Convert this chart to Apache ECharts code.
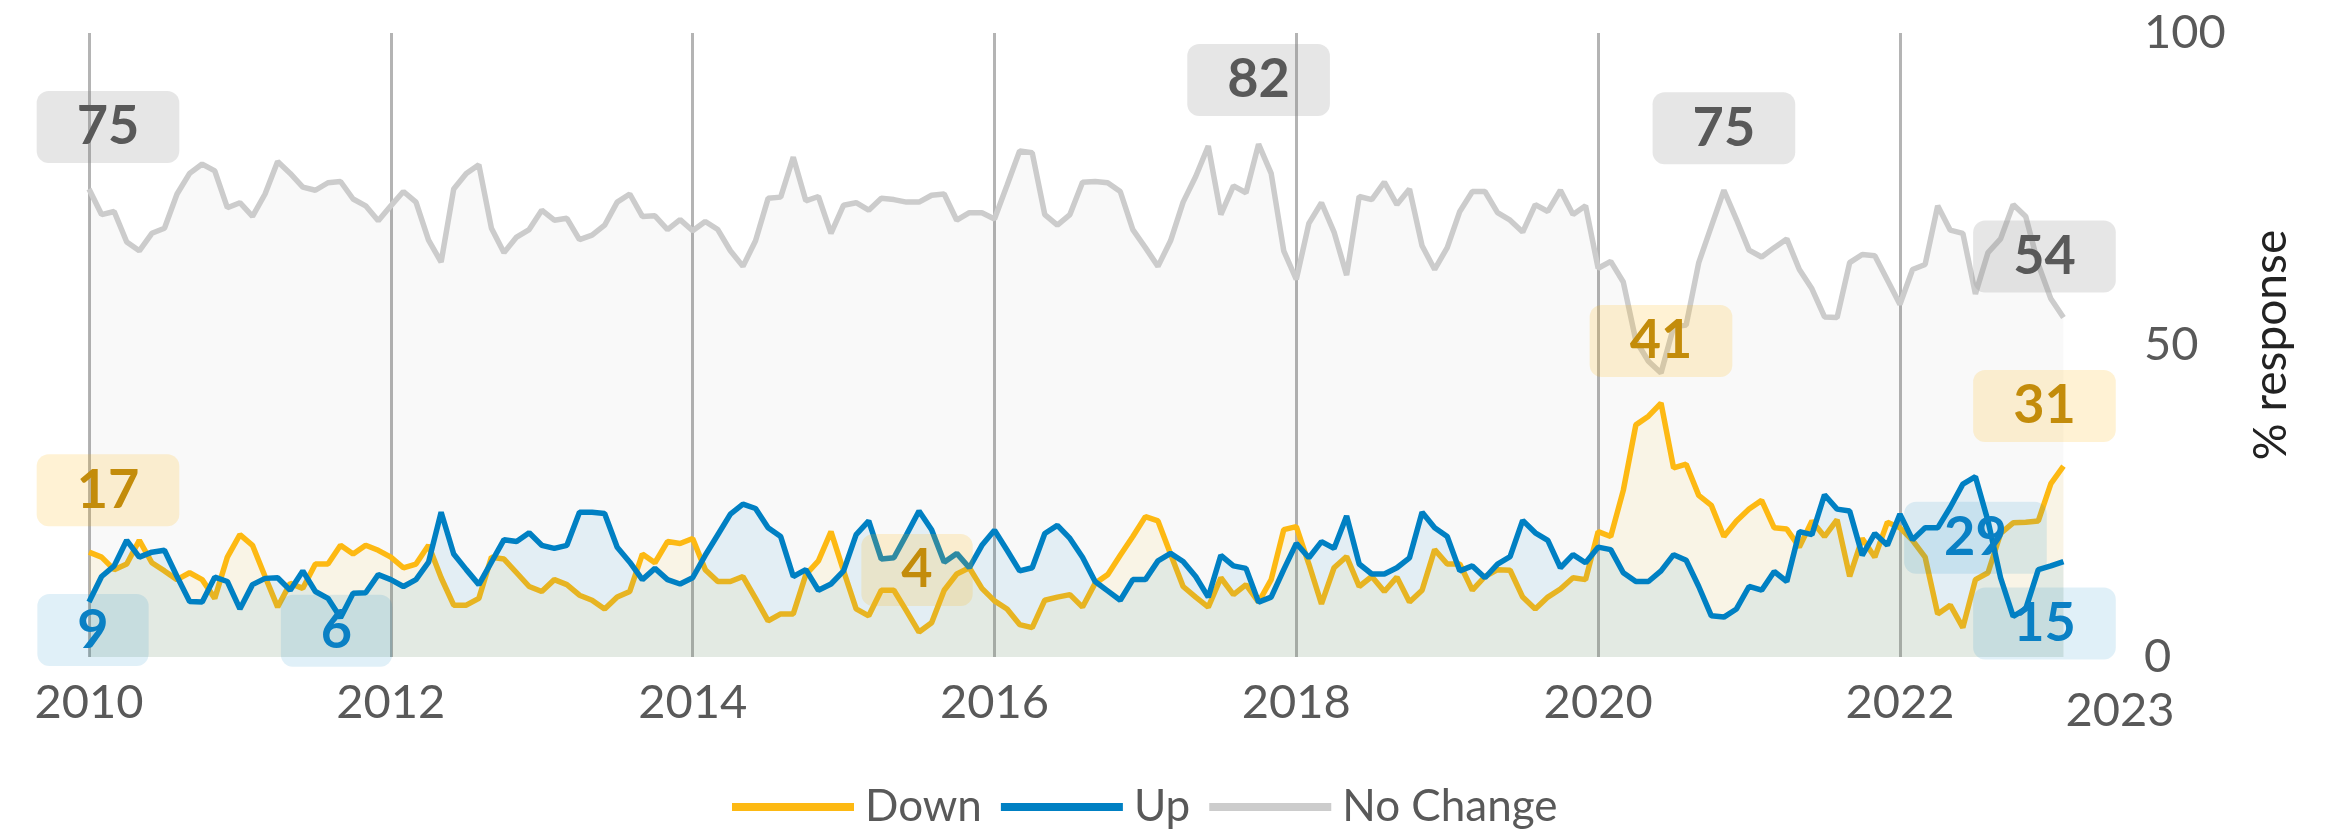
<!DOCTYPE html>
<html><head><meta charset="utf-8">
<script src="https://cdn.jsdelivr.net/npm/echarts@6/dist/echarts.min.js"></script>
<style>html,body{margin:0;padding:0;background:#fff}#c{width:2335px;height:836px}</style>
</head><body><div id="c"></div>
<script>
// ---- data (monthly, Jan 2010 .. Feb 2023) ----
const startYear = 2010;
const endLabel = '2023';
const seriesNames = ['Down', 'Up', 'No Change'];

const down = [
  16.8,16.0,14.0,14.9,18.7,15.1,13.8,12.4,13.5,12.4,9.4,16.0,19.6,17.9,12.9,8.0,11.8,11.0,14.9,14.9,17.9,16.5,17.9,17.1,
  16.0,14.3,14.9,17.9,12.7,8.3,8.3,9.4,16.0,15.7,13.5,11.3,10.5,12.4,11.6,9.9,9.1,7.7,9.6,10.5,16.5,15.1,18.5,18.2,
  19.0,14.0,12.1,12.1,12.9,9.4,5.8,6.9,6.9,13.2,15.4,20.1,13.8,7.7,6.6,10.7,10.7,7.4,4.0,5.5,10.7,13.3,14.3,11.0,
  9.0,7.7,5.2,4.7,9.1,9.6,10.0,8.0,11.8,13.2,16.3,19.3,22.5,21.8,16.5,11.3,9.6,8.0,12.7,10.0,11.6,8.8,12.4,20.4,
  20.9,14.9,8.5,14.3,16.1,11.3,12.9,10.5,12.8,8.8,10.7,17.2,14.9,14.9,10.7,12.9,14.0,13.9,9.6,7.7,9.6,10.9,12.7,12.4,
  20.1,19.3,26.7,37.2,38.6,40.7,30.3,30.9,25.9,24.3,19.3,21.8,23.7,25.1,20.7,20.5,17.6,21.8,19.3,22.0,12.9,19.0,16.0,21.6,
  20.7,18.7,16.0,6.9,8.3,4.7,12.4,13.5,19.8,21.5,21.6,21.8,27.8,30.6
];
const up = [
  8.8,12.9,14.6,18.7,16.0,16.8,17.1,12.9,8.9,8.8,12.8,12.1,7.7,11.6,12.6,12.7,10.7,13.8,10.5,9.4,6.3,10.2,10.3,13.2,
  12.4,11.3,12.4,15.2,23.2,16.5,14.0,11.6,15.2,18.8,18.5,19.9,17.9,17.4,17.9,23.2,23.2,23.0,17.6,15.2,12.4,14.2,12.4,11.7,
  12.7,16.3,19.6,22.9,24.5,23.8,20.7,19.3,12.9,14.0,10.7,11.7,13.8,19.6,21.8,15.7,15.9,19.6,23.4,20.4,15.2,16.6,14.3,17.9,
  20.3,17.1,13.8,14.3,19.8,21.1,19.0,16.0,12.1,10.6,9.1,12.4,12.4,15.4,16.6,15.3,12.9,9.6,16.3,14.6,14.2,8.8,9.6,14.0,
  18.2,15.9,18.5,17.4,22.6,14.9,13.3,13.3,14.3,15.9,23.2,20.7,19.3,13.8,14.6,12.7,14.9,16.1,21.9,19.9,18.7,14.3,16.4,15.1,
  17.6,17.2,13.5,12.1,12.1,13.8,16.4,15.5,11.3,6.6,6.4,7.7,11.3,10.7,13.7,12.1,20.1,19.6,26.0,23.7,23.4,16.3,19.8,17.9,
  22.9,18.8,20.7,20.7,24.0,27.7,28.9,21.8,12.7,6.5,7.7,14.0,14.6,15.3
];
const noChange = [
  75.0,70.9,71.4,66.5,65.1,67.9,68.7,74.2,77.5,79.0,77.9,72.0,72.8,70.6,74.2,79.4,77.5,75.3,74.8,76.0,76.2,73.4,72.3,69.9,
  72.3,74.6,72.9,66.8,63.3,75.0,77.5,78.9,68.7,64.8,67.3,68.5,71.6,70.0,70.3,66.9,67.6,69.2,72.9,74.2,70.6,70.7,68.5,70.1,
  68.3,69.8,68.5,65.1,62.6,66.7,73.5,73.7,80.1,73.1,73.8,67.9,72.4,72.8,71.6,73.5,73.3,72.9,72.9,74.0,74.2,70.0,71.2,71.2,
  70.2,75.6,81.1,80.8,70.9,69.2,70.9,76.1,76.2,76.0,74.6,68.5,65.6,62.6,66.7,72.9,77.0,81.9,70.9,75.5,74.4,82.2,77.5,65.1,
  60.5,69.5,72.8,68.1,61.2,73.8,73.3,76.1,72.5,75.0,65.9,62.1,65.6,71.4,74.6,74.6,71.2,70.0,68.1,72.5,71.4,74.8,70.9,72.3,
  62.3,63.4,60.1,50.7,47.4,45.5,52.9,53.2,63.2,69.0,74.8,70.1,65.2,64.1,65.6,67.0,62.1,59.0,54.5,54.4,63.2,64.5,64.3,60.4,
  56.5,62.1,62.9,72.3,68.4,67.9,58.2,64.8,67.0,72.5,70.6,62.9,57.4,54.4
];

// indices of annotated points
const downLabelIdx = [0, 66, 125, 157];
const upLabelIdx = [0, 20, 150, 157];
const noChangeLabelIdx = [0, 93, 130, 157];

// ---- styles ----
const FONT = 'Lato';
const COL = { down: '#FDB913', up: '#0080C3', nc: '#CCCCCC' };
const LINE_W = 5.5;
const labelOffsets = {
  down: [[19, -62], [-2, -62], [0, -62], [-19, -60]],
  up:   [[4, 28], [-4, 13], [0, 61], [-19, 62]],
  nc:   [[19, -62], [0, -64], [0, -62], [-19, -61]]
};

const xMax = 2023.458;
const toX = i => startYear + i / 12;
const pts = arr => arr.map((v, i) => [toX(i), v]);

function marks(arr, idxs, offs, textColor, bg) {
  return {
    symbol: 'circle', symbolSize: 1, silent: true,
    itemStyle: { color: 'rgba(0,0,0,0)' },
    label: {
      show: true, position: 'inside',
      formatter: p => String(Math.round(p.value)),
      fontFamily: FONT, fontWeight: 'bold', fontSize: 54, lineHeight: 56,
      padding: [8, 40], borderRadius: 12,
      color: textColor, backgroundColor: bg
    },
    data: idxs.map((idx, j) => ({
      coord: [toX(idx), arr[idx]], value: arr[idx],
      label: { offset: offs[j] }
    }))
  };
}

const chart = echarts.init(document.getElementById('c'), null, { renderer: 'canvas' });
chart.setOption({
  animation: false,
  backgroundColor: '#ffffff',
  grid: { left: 89, right: 215, top: 33, bottom: 179, containLabel: false },
  legend: {
    data: seriesNames, left: 727, top: 780,
    icon: 'rect', itemWidth: 122, itemHeight: 8, itemGap: 19,
    textStyle: { fontSize: 44, color: '#595959', fontFamily: FONT, padding: [0, 0, 0, 6] }
  },
  xAxis: {
    type: 'value', min: startYear, max: xMax, interval: 2,
    axisLine: { show: false }, axisTick: { show: false },
    splitLine: { show: true, showMaxLine: false, lineStyle: { color: '#b4b4b4', width: 3 } },
    axisLabel: {
      fontSize: 47, color: '#595959', fontFamily: FONT, margin: 22,
      showMinLabel: true, showMaxLabel: true,
      formatter: v => (v > xMax - 1e-6 ? '{e|' + endLabel + '}' : String(Math.round(v))),
      rich: { e: { fontSize: 47, color: '#595959', fontFamily: FONT, padding: [8, 0, 0, 0] } }
    }
  },
  yAxis: {
    type: 'value', position: 'right', min: 0, max: 100, interval: 50,
    axisLine: { show: false }, axisTick: { show: false }, splitLine: { show: false },
    axisLabel: { fontSize: 47, color: '#595959', fontFamily: FONT, margin: 24 },
    name: '% response', nameLocation: 'middle', nameGap: 128, nameRotate: 90,
    nameTextStyle: { fontSize: 46, color: '#222222', fontFamily: FONT }
  },
  series: [
    {
      name: 'No Change', type: 'line', data: pts(noChange), symbol: 'none', z: 2,
      lineStyle: { color: COL.nc, width: LINE_W }, itemStyle: { color: COL.nc },
      areaStyle: { color: 'rgba(0,0,0,0.03)' },
      markPoint: marks(noChange, noChangeLabelIdx, labelOffsets.nc, '#595959', 'rgba(128,128,128,0.2)')
    },
    {
      name: 'Down', type: 'line', data: pts(down), symbol: 'none', z: 3,
      lineStyle: { color: COL.down, width: LINE_W }, itemStyle: { color: COL.down },
      areaStyle: { color: 'rgba(253,185,19,0.11)' },
      markPoint: marks(down, downLabelIdx, labelOffsets.down, '#C38C0B', 'rgba(253,185,19,0.18)')
    },
    {
      name: 'Up', type: 'line', data: pts(up), symbol: 'none', z: 4,
      lineStyle: { color: COL.up, width: LINE_W }, itemStyle: { color: COL.up },
      areaStyle: { color: 'rgba(0,128,195,0.12)' },
      markPoint: marks(up, upLabelIdx, labelOffsets.up, '#0A80C4', 'rgba(0,128,195,0.12)')
    }
  ]
});
</script>
</body></html>
